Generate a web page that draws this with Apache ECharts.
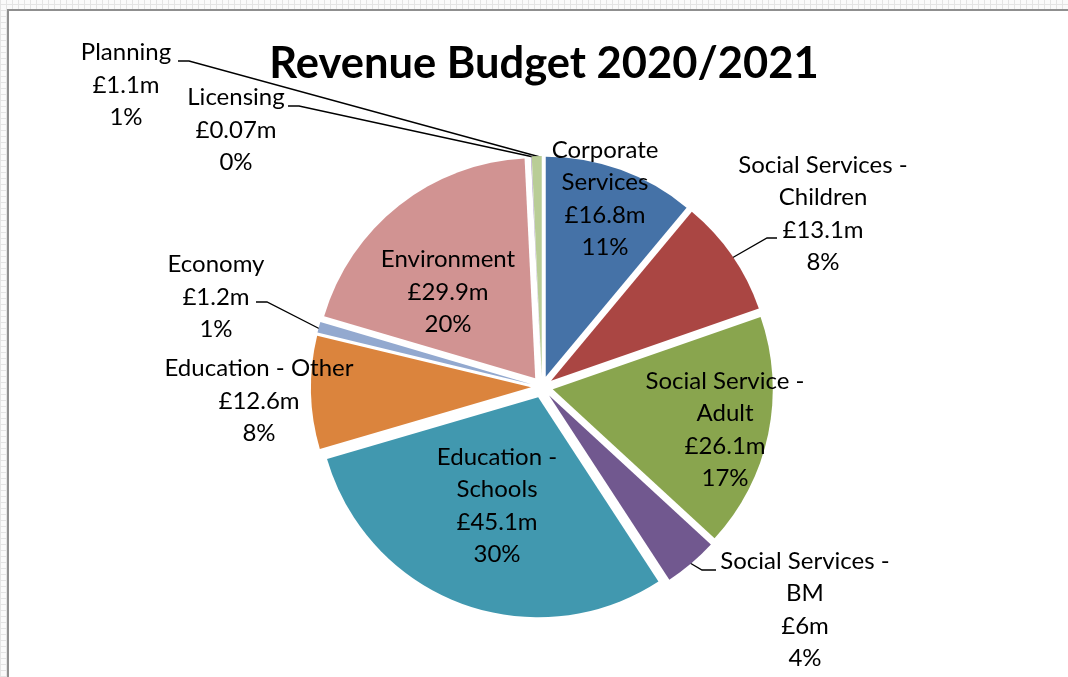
<!DOCTYPE html>
<html>
<head>
<meta charset="utf-8">
<script src="https://cdn.jsdelivr.net/npm/echarts/dist/echarts.min.js"></script>
<style>
  html, body { margin: 0; padding: 0; width: 1068px; height: 677px; overflow: hidden; }
  body {
    background-color: #fafafa;
    background-image:
      repeating-linear-gradient(0deg, #e4e4e4 0 1px, transparent 1px 6px),
      repeating-linear-gradient(90deg, #e4e4e4 0 1px, transparent 1px 6px);
  }
  #frame { position: absolute; left: 7px; top: 9px; width: 1100px; height: 700px; background: #fff;
           border-left: 2px solid #8f8f8f; border-top: 2px solid #8f8f8f; }
  #chart { position: absolute; left: 0; top: 0; width: 1068px; height: 677px; }
</style>
</head>
<body>
<div id="frame"></div>
<div id="chart"></div>
<script>
// ---- data ----
const categories = ['Corporate Services', 'Social Services - Children', 'Social Service - Adult',
  'Social Services - BM', 'Education - Schools', 'Education - Other', 'Economy',
  'Environment', 'Licensing', 'Planning'];
const values = [16.8, 13.1, 26.1, 6, 45.1, 12.6, 1.2, 29.9, 0.07, 1.1];
const labelNames = ['Corporate\nServices', 'Social Services -\nChildren', 'Social Service -\nAdult',
  'Social Services -\nBM', 'Education -\nSchools', 'Education - Other', 'Economy',
  'Environment', 'Licensing', 'Planning'];
const titleText = 'Revenue Budget 2020/2021';

// ---- styles / layout ----
const colors = ['#4572A7', '#AA4643', '#89A54E', '#71588F', '#4198AF', '#DB843D',
  '#93A9CF', '#D19392', '#A99BBD', '#B9CD96'];
const labelPos = [[605, 199], [823, 214], [725, 430], [805, 610], [497, 506],
  [259, 401], [216, 297], [448, 292], [236, 130], [126, 85]];
const leader = [null, [[732, 258], [767, 238], [777, 238]], null,
  [[690, 563], [702, 570], [716, 570]], null, null,
  [[320, 329], [267, 302], [256, 302]], null,
  [[538, 158], [299, 106], [288, 106]], [[540, 157], [189, 61], [178, 61]]];
const FONT = 'Lato, "Open Sans", sans-serif';
const center = [542, 387];
const radius = 220;

const chart = echarts.init(document.getElementById('chart'), null, { renderer: 'canvas' });

const sliceData = categories.map((c, i) => ({
  name: c, value: values[i], selected: true,
  itemStyle: { color: colors[i] }
}));
const labelData = categories.map((c, i) => ({
  name: c, value: values[i],
  labelLine: { show: !!leader[i] }
}));

chart.setOption({
  animation: false,
  backgroundColor: 'transparent',
  title: {
    text: titleText, left: 539, top: 37, textAlign: 'center',
    textStyle: { fontFamily: FONT, fontWeight: 'bold', fontSize: 43.5, color: '#000' }
  },
  series: [
    {
      type: 'pie', center: center, radius: radius, startAngle: 90, clockwise: true,
      selectedMode: 'multiple', selectedOffset: 11, silent: true,
      label: { show: false }, labelLine: { show: false },
      emphasis: { disabled: true },
      select: { itemStyle: { borderWidth: 0 } },
      itemStyle: { borderWidth: 0 },
      data: sliceData
    },
    {
      type: 'pie', center: center, radius: radius, startAngle: 90, clockwise: true,
      silent: true, avoidLabelOverlap: false, percentPrecision: 0,
      itemStyle: { color: 'rgba(0,0,0,0)', borderWidth: 0 },
      emphasis: { disabled: true },
      label: {
        show: true, position: 'outside', color: '#000',
        fontFamily: FONT, fontSize: 24, lineHeight: 32.5,
        formatter: p => labelNames[p.dataIndex] + '\n£' + p.value + 'm\n' + p.percent + '%'
      },
      labelLine: { show: true, length: 10, length2: 10, lineStyle: { color: '#000', width: 1.3 } },
      labelLayout: function (params) {
        const i = params.dataIndex;
        const o = { x: labelPos[i][0], y: labelPos[i][1], align: 'center', verticalAlign: 'middle' };
        if (leader[i]) o.labelLinePoints = leader[i];
        return o;
      },
      data: labelData
    }
  ]
});
</script>
</body>
</html>
